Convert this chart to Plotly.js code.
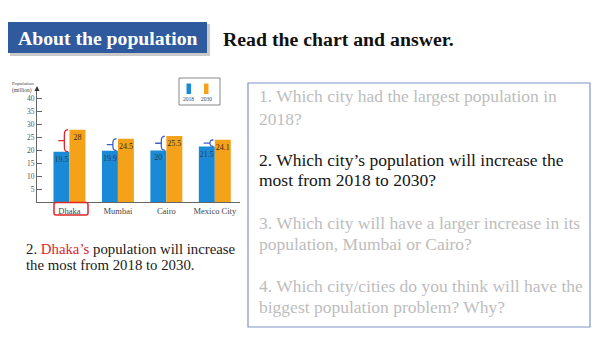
<!DOCTYPE html>
<html>
<head>
<meta charset="utf-8">
<script src="https://cdn.plot.ly/plotly-3.0.1.min.js"></script>
<style>html,body{margin:0;padding:0;background:#fff;}#chart{width:600px;height:338px;}</style>
</head>
<body>
<div id="chart"></div>
<script>
const cities = ['Dhaka', 'Mumbai', 'Cairo', 'Mexico City'];
const pop2018 = [19.5, 19.9, 20, 21.5];
const pop2030 = [28, 24.5, 25.5, 24.1];
const labels2018 = ['19.5', '19.9', '20', '21.5'];
const labels2030 = ['28', '24.5', '25.5', '24.1'];
const yTicks = [5, 10, 15, 20, 25, 30, 35, 40];
const seriesNames = ['2018', '2030'];
const questions = [
  ['1. Which city had the largest population in', '2018?'],
  ['2. Which city’s population will increase the', 'most from 2018 to 2030?'],
  ['3. Which city will have a larger increase in its', 'population, Mumbai or Cairo?'],
  ['4. Which city/cities do you think will have the', 'biggest population problem? Why?']
];

const W = 600, H = 338;
const px = x => x / W;
const py = y => 1 - y / H;
const serif = 'Liberation Serif, Times New Roman, serif';
const BLUE = '#1a8ad6', ORANGE = '#f5a21b';
const xIdx = cities.map((c, i) => i);

// braces between 2018 and 2030 bar tops
function braceTrace(indices, color) {
  const xs = [], ys = [];
  indices.forEach(i => {
    const lo = pop2018[i], hi = pop2030[i], mid = (lo + hi) / 2;
    xs.push(i - 0.03, i - 0.08, i - 0.1, i - 0.1, i - 0.08, i - 0.03, null, i - 0.1, i - 0.23, null);
    ys.push(hi, hi - 0.3, hi - 1, lo + 1, lo + 0.3, lo, null, mid, mid, null);
  });
  return {x: xs, y: ys, type: 'scatter', mode: 'lines', line: {color: color, width: 1.3, shape: 'spline', smoothing: 0.6},
          connectgaps: false, showlegend: false, hoverinfo: 'skip'};
}

const traces = [
  {x: xIdx, y: pop2018, type: 'bar', name: seriesNames[0], marker: {color: BLUE},
   text: labels2018, textposition: 'inside', insidetextanchor: 'end', textangle: 0, constraintext: 'none',
   insidetextfont: {family: serif, size: 8, color: '#2b3a55'}, showlegend: false, hoverinfo: 'skip'},
  {x: xIdx, y: pop2030, type: 'bar', name: seriesNames[1], marker: {color: ORANGE},
   text: labels2030, textposition: 'inside', insidetextanchor: 'end', textangle: 0, constraintext: 'none',
   insidetextfont: {family: serif, size: 8, color: '#3a2a10'}, showlegend: false, hoverinfo: 'skip'},
  braceTrace([0], '#e0262b'),
  braceTrace([1, 2, 3], '#3d62c0')
];

const shapes = [
  // title box shadow & box
  {type: 'rect', xref: 'paper', yref: 'paper', x0: px(10), x1: px(210), y0: py(56), y1: py(24), fillcolor: '#c9c9c9', line: {width: 0}, layer: 'below'},
  {type: 'rect', xref: 'paper', yref: 'paper', x0: px(8), x1: px(207), y0: py(53), y1: py(22), fillcolor: '#2f5a9e', line: {width: 0}},
  // question box
  {type: 'rect', xref: 'paper', yref: 'paper', x0: px(248), x1: px(590), y0: py(327), y1: py(83), fillcolor: 'rgba(0,0,0,0)', line: {color: '#7f96c6', width: 1.2}},
  // legend box
  {type: 'rect', xref: 'paper', yref: 'paper', x0: px(179), x1: px(220), y0: py(105), y1: py(78), fillcolor: '#fff', line: {color: '#888', width: 1}},
  {type: 'rect', xref: 'paper', yref: 'paper', x0: px(186.5), x1: px(191), y0: py(94), y1: py(83.5), fillcolor: BLUE, line: {width: 0}},
  {type: 'rect', xref: 'paper', yref: 'paper', x0: px(204), x1: px(208.5), y0: py(94), y1: py(83.5), fillcolor: ORANGE, line: {width: 0}},
  // y axis arrow
  {type: 'path', xref: 'paper', yref: 'paper', path: `M ${px(34.5)} ${py(91)} L ${px(39.5)} ${py(91)} L ${px(37)} ${py(86)} Z`, fillcolor: '#333', line: {width: 0}},
  // red box around Dhaka
  {type: 'path', xref: 'paper', yref: 'paper',
   path: `M ${px(56)} ${py(202.5)} L ${px(86)} ${py(202.5)} Q ${px(88)} ${py(202.5)} ${px(88)} ${py(204.5)} L ${px(88)} ${py(213)} Q ${px(88)} ${py(215)} ${px(86)} ${py(215)} L ${px(56)} ${py(215)} Q ${px(54)} ${py(215)} ${px(54)} ${py(213)} L ${px(54)} ${py(204.5)} Q ${px(54)} ${py(202.5)} ${px(56)} ${py(202.5)} Z`,
   line: {color: '#e0262b', width: 1.5}}
];

const annotations = [
  {xref: 'paper', yref: 'paper', x: px(107.5), y: py(38), text: '<b>About the population</b>', showarrow: false,
   xanchor: 'center', yanchor: 'middle', font: {family: serif, size: 19.7, color: '#ffffff'}},
  {xref: 'paper', yref: 'paper', x: px(221), y: py(39.5), text: '<b>Read the chart and answer.</b>', showarrow: false,
   xanchor: 'left', yanchor: 'middle', font: {family: serif, size: 19.8, color: '#111'}},
  {xref: 'paper', yref: 'paper', x: px(10), y: py(84), text: 'Population', showarrow: false,
   xanchor: 'left', yanchor: 'middle', font: {family: serif, size: 5, color: '#444'}},
  {xref: 'paper', yref: 'paper', x: px(10), y: py(90.5), text: '(million)', showarrow: false,
   xanchor: 'left', yanchor: 'middle', font: {family: serif, size: 5.5, color: '#444'}},
  {xref: 'paper', yref: 'paper', x: px(188.7), y: py(98.5), text: seriesNames[0], showarrow: false,
   xanchor: 'center', yanchor: 'middle', font: {family: serif, size: 5.5, color: '#444'}},
  {xref: 'paper', yref: 'paper', x: px(206.3), y: py(98.5), text: seriesNames[1], showarrow: false,
   xanchor: 'center', yanchor: 'middle', font: {family: serif, size: 5.5, color: '#444'}},
  {xref: 'paper', yref: 'paper', x: px(24), y: py(248.5), text: '2. <span style="color:#e0262b">Dhaka’s</span> population will increase', showarrow: false,
   xanchor: 'left', yanchor: 'middle', font: {family: serif, size: 14.8, color: '#1a1a1a'}},
  {xref: 'paper', yref: 'paper', x: px(24), y: py(264.5), text: 'the most from 2018 to 2030.', showarrow: false,
   xanchor: 'left', yanchor: 'middle', font: {family: serif, size: 14.8, color: '#1a1a1a'}}
];

const qCenters = [[96.5, 118.5], [159.5, 180], [222.5, 244], [286, 306.5]];
questions.forEach((q, qi) => {
  q.forEach((line, li) => {
    annotations.push({xref: 'paper', yref: 'paper', x: px(257), y: py(qCenters[qi][li]), text: line, showarrow: false,
      xanchor: 'left', yanchor: 'middle', font: {family: serif, size: 17.5, color: qi === 1 ? '#151515' : '#bdbdbd'}});
  });
});

const layout = {
  width: W, height: H,
  margin: {l: 0, r: 0, t: 0, b: 0},
  paper_bgcolor: '#ffffff', plot_bgcolor: '#ffffff',
  showlegend: false,
  barmode: 'group', bargap: 0.34, bargroupgap: 0,
  xaxis: {domain: [px(37), px(240)], range: [-0.67, 3.52], type: 'linear',
          tickvals: xIdx, ticktext: cities, ticks: '', showgrid: false, zeroline: false,
          showline: true, linecolor: '#666', linewidth: 1,
          tickfont: {family: serif, size: 8.5, color: '#444'}, fixedrange: true},
  yaxis: {domain: [py(202.3), py(88.1)], range: [0, 44], tickvals: yTicks,
          ticks: 'inside', ticklen: 5, tickcolor: '#666', showgrid: false, zeroline: false,
          showline: true, linecolor: '#666', linewidth: 1,
          tickfont: {family: serif, size: 7.5, color: '#555'}, fixedrange: true},
  shapes: shapes,
  annotations: annotations
};

Plotly.newPlot('chart', traces, layout, {displayModeBar: false, staticPlot: true});
</script>
</body>
</html>
